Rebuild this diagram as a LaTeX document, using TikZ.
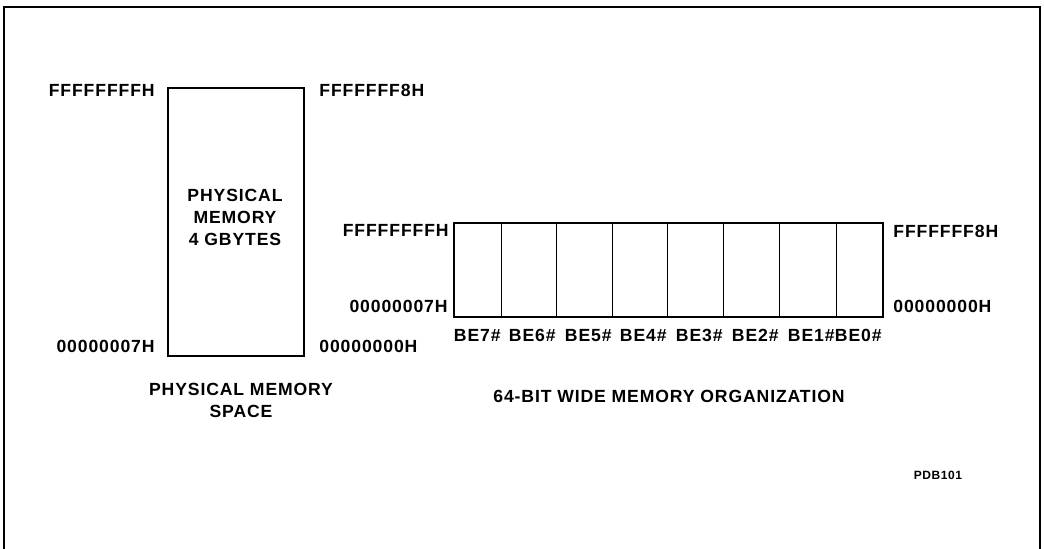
\documentclass[tikz,border=0pt]{standalone}
\usepackage{fontspec}
\setmainfont{Liberation Sans}[LetterSpace=5]
\begin{document}
\begin{tikzpicture}[x=0.5pt,y=-0.5pt,
  lbl/.style={inner sep=0pt,font=\fontsize{8.8}{11}\selectfont\bfseries},
  small/.style={inner sep=0pt,font=\fontsize{6}{7}\selectfont\bfseries},
  frame/.style={line width=0.7pt},
  box/.style={draw,line width=1pt},
  divider/.style={line width=0.5pt}]
\useasboundingbox (0,0) rectangle (1044,549);
% outer frame (open at bottom)
\coordinate (fbl) at (4,549);
\coordinate (ftl) at (4,7);
\coordinate (ftr) at (1040,7);
\coordinate (fbr) at (1040,549);
\draw[frame] (fbl) -- (ftl) -- (ftr) -- (fbr);
% physical memory space
\node[box,minimum width=136*0.5pt,minimum height=268*0.5pt,inner sep=0pt,anchor=north west] (pm) at (167,87) {};
\node[lbl,align=center] (pmtxt) at (235,217) {PHYSICAL\\MEMORY\\4 GBYTES};
\node[lbl,anchor=base east] (pmtl) at (155,97) {FFFFFFFFH};
\node[lbl,anchor=base west] (pmtr) at (319,97) {FFFFFFF8H};
\node[lbl,anchor=base east] (pmbl) at (155,353) {00000007H};
\node[lbl,anchor=base west] (pmbr) at (319,353) {00000000H};
\node[lbl,align=center] (pmcap) at (241,400) {PHYSICAL MEMORY\\SPACE};
% 64-bit organization
\node[box,minimum width=429*0.5pt,minimum height=94*0.5pt,inner sep=0pt,anchor=north west] (org) at (453,222) {};
\foreach \x/\n in {501/6,556/5,612/4,667/3,723/2,779/1,836/0}{
  \coordinate (dt\n) at (\x,222);
  \coordinate (db\n) at (\x,316);
  \draw[divider] (dt\n) -- (db\n);
}
\foreach \x/\n in {501/7,556/6,612/5,667/4,723/3,779/2,835/1,882/0}{
  \node[lbl,anchor=base east] (be\n) at (\x,342) {BE\n\#};
}
\node[lbl,anchor=base east] (ortl) at (449,237) {FFFFFFFFH};
\node[lbl,anchor=base east] (orbl) at (448,313) {00000007H};
\node[lbl,anchor=base west] (ortr) at (893,238) {FFFFFFF8H};
\node[lbl,anchor=base west] (orbr) at (893,313) {00000000H};
\node[lbl,anchor=base] (orcap) at (669,403) {64-BIT WIDE MEMORY ORGANIZATION};
\node[small,anchor=base] (pdb) at (938,480) {PDB101};
\end{tikzpicture}
\end{document}
